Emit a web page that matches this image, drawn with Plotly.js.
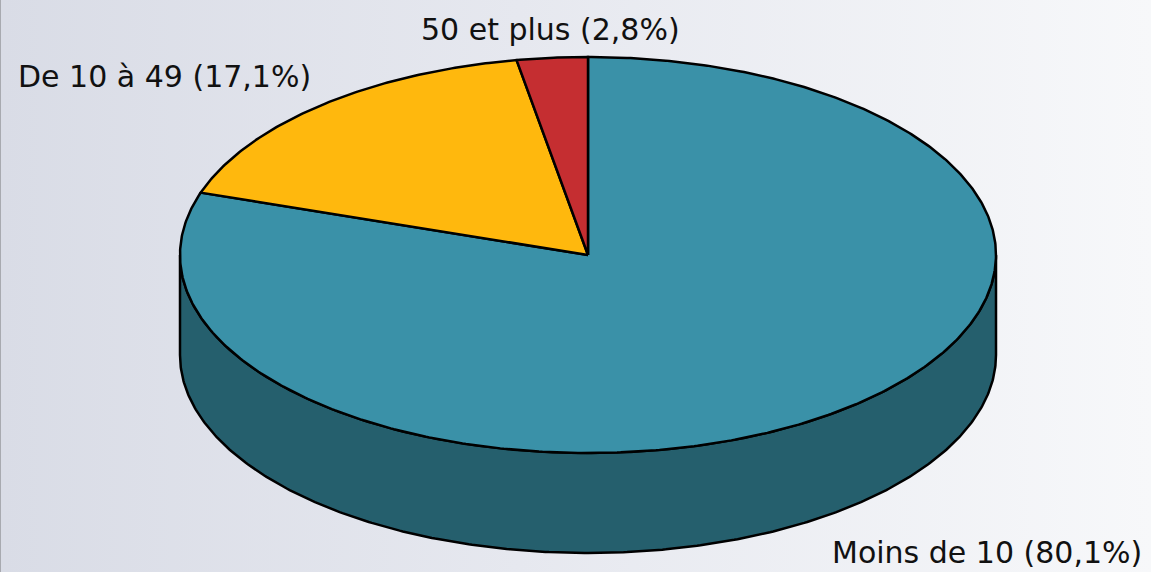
<!DOCTYPE html>
<html>
<head>
<meta charset="utf-8">
<script src="https://cdn.plot.ly/plotly-3.0.1.min.js"></script>
<style>
html,body{margin:0;padding:0;}
#chart{width:1151px;height:572px;background:linear-gradient(to right,#d9dce6 0%,#e6e8ef 45%,#f7f8fa 100%);border-left:1px solid #a8aab0;box-sizing:border-box;}
</style>
</head>
<body>
<div id="chart"></div>
<script>
// Data
var categories = ["Moins de 10", "De 10 à 49", "50 et plus"];
var shares = [80.1, 17.1, 2.8];
var labelTexts = ["Moins de 10 (80,1%)", "De 10 à 49 (17,1%)", "50 et plus (2,8%)"];

// Styles
var topColors = ["#3a91a8", "#ffb80d", "#c52e31"];
var sideColors = ["#255f6d", "#a87906", "#821e20"];

(function () {
var W = 1151, H = 572;
var cx = 587, cy = 255, rx = 408, ry = 198, depth = 100;
var startAngle = 90; // degrees, clockwise direction

function pt(deg, z) {
  var r = deg * Math.PI / 180;
  return [cx + rx * Math.cos(r), cy - ry * Math.sin(r) + z];
}
function arc(a0, a1, z) {
  var n = Math.max(2, Math.ceil(Math.abs(a1 - a0) / 0.5));
  var xs = [], ys = [];
  for (var i = 0; i <= n; i++) {
    var a = a0 + (a1 - a0) * i / n;
    var p = pt(a, z);
    xs.push(p[0]); ys.push(p[1]);
  }
  return [xs, ys];
}

var total = shares.reduce(function (a, b) { return a + b; }, 0);
var traces = [];
var sliceAngles = [];
var cum = 0;
for (var i = 0; i < shares.length; i++) {
  var a0 = startAngle - 360 * cum / total;
  cum += shares[i];
  var a1 = startAngle - 360 * cum / total;
  sliceAngles.push([a0, a1]);
}

// Side (front) walls: visible where angle in (-180, 0) mod 360
for (var i = 0; i < shares.length; i++) {
  var a0 = sliceAngles[i][0], a1 = sliceAngles[i][1];
  for (var k = -2; k <= 2; k++) {
    var lo = -180 + 360 * k, hi = 0 + 360 * k;
    var s = Math.min(a0, hi), e = Math.max(a1, lo);
    if (s > e) {
      var upper = arc(s, e, 0), lower = arc(e, s, depth);
      var xs = upper[0].concat(lower[0]); xs.push(upper[0][0]);
      var ys = upper[1].concat(lower[1]); ys.push(upper[1][0]);
      traces.push({
        type: "scatter", mode: "lines", x: xs, y: ys, fill: "toself",
        fillcolor: sideColors[i], line: { color: "#000", width: 2.5 },
        hoverinfo: "skip", showlegend: false
      });
    }
  }
}

// Top faces
for (var i = 0; i < shares.length; i++) {
  var a0 = sliceAngles[i][0], a1 = sliceAngles[i][1];
  var ar = arc(a0, a1, 0);
  var xs = [cx].concat(ar[0]).concat([cx]);
  var ys = [cy].concat(ar[1]).concat([cy]);
  traces.push({
    type: "scatter", mode: "lines", x: xs, y: ys, fill: "toself",
    fillcolor: topColors[i], line: { color: "#000", width: 2.5 },
    name: categories[i], hoverinfo: "name", showlegend: false
  });
}

// Labels placed outside each slice's mid angle
var annotations = [];
for (var i = 0; i < shares.length; i++) {
  var mid = (sliceAngles[i][0] + sliceAngles[i][1]) / 2;
  var r = mid * Math.PI / 180;
  var c = Math.cos(r), sn = Math.sin(r);
  var z = sn < 0 ? depth : 0;
  var p = pt(mid, z);
  var xa = Math.abs(c) < 0.2 ? "center" : (c > 0 ? "left" : "right");
  var ya = sn > 0 ? "bottom" : "top";
  annotations.push({
    x: p[0] + (xa === "center" ? -2 : (c > 0 ? 3 : -8)),
    y: p[1] + (sn > 0 ? -9 : 17),
    xref: "x", yref: "y", text: labelTexts[i], showarrow: false,
    xanchor: xa, yanchor: ya,
    font: { family: "DejaVu Sans", size: 30, color: "#111" }
  });
}

var layout = {
  width: W, height: H,
  margin: { l: 0, r: 0, t: 0, b: 0 },
  paper_bgcolor: "rgba(0,0,0,0)", plot_bgcolor: "rgba(0,0,0,0)",
  xaxis: { range: [0, W], visible: false, fixedrange: true },
  yaxis: { range: [H, 0], visible: false, fixedrange: true },
  annotations: annotations,
  showlegend: false
};
Plotly.newPlot("chart", traces, layout, { staticPlot: true, displayModeBar: false });
})();
</script>
</body>
</html>
